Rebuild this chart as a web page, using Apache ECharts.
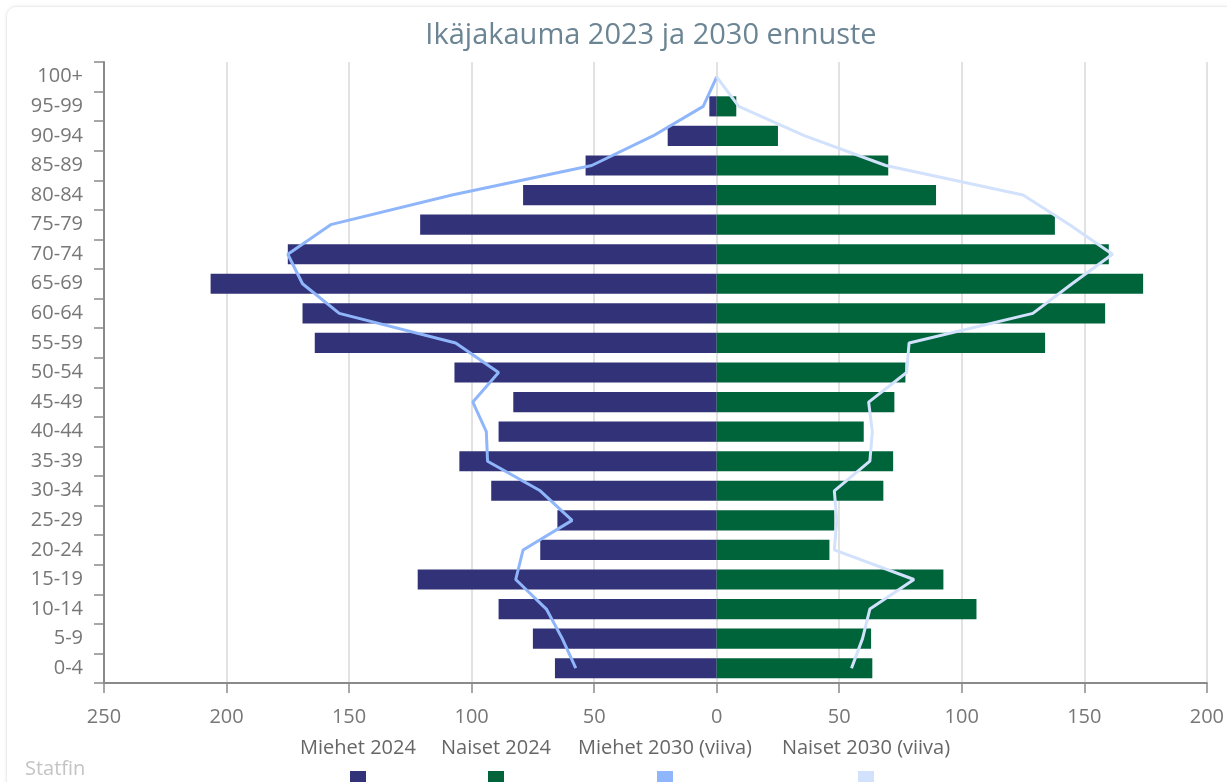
<!DOCTYPE html>
<html>
<head>
<meta charset="utf-8">
<title>Ikäjakauma 2023 ja 2030 ennuste</title>
<script src="https://cdn.jsdelivr.net/npm/echarts@6/dist/echarts.min.js"></script>
<style>
  html, body { margin: 0; padding: 0; background: #fff; }
  #card {
    position: absolute; left: 6px; top: 6px; width: 1240px; height: 800px;
    border: 1px solid #ececec; border-radius: 10px;
    box-shadow: 0 0 4px rgba(0,0,0,0.06);
  }
  #chart { position: absolute; left: 0; top: 0; width: 1227px; height: 782px; }
</style>
</head>
<body>
<div id="card"></div>
<div id="chart"></div>
<script>
// ikäryhmät alhaalta ylös
var ageGroups = ['0-4', '5-9', '10-14', '15-19', '20-24', '25-29', '30-34', '35-39', '40-44', '45-49',
  '50-54', '55-59', '60-64', '65-69', '70-74', '75-79', '80-84', '85-89', '90-94', '95-99', '100+'];

var men2024   = [66, 75, 89, 122, 72, 65, 92, 105, 89, 83, 107, 164, 169, 206.5, 175, 121, 79, 53.5, 20, 3, 0];
var women2024 = [63.5, 63, 106, 92.5, 46, 48, 68, 72, 60, 72.5, 77, 134, 158.5, 174, 160, 138, 89.5, 70, 25, 8, 0];
var men2030   = [57.5, 63, 69.5, 82, 79, 59, 72, 93.5, 94, 99.5, 89, 106.5, 154, 169, 175, 157.5, 108, 51, 26, 5.5, 0];
var women2030 = [55, 59.5, 62.5, 80.5, 48, 49, 48, 62.5, 63.5, 62, 77.5, 78.5, 129, 145, 161.5, 144, 125, 69, 36, 9, 0];

var seriesNames = ['Miehet 2024', 'Naiset 2024', 'Miehet 2030 (viiva)', 'Naiset 2030 (viiva)'];
var seriesColors = ['#323278', '#00643a', '#8fb6fa', '#d2e1fc'];

// legendan paikat (ikoni keskellä tekstin alla)
var legendX = [358, 496, 665, 866];

var FONT = '"Open Sans", "Noto Sans", sans-serif';

function neg(arr) {
  return arr.map(function (v) { return -v; });
}

var legends = [];
var labels = [];
seriesNames.forEach(function (name, i) {
  legends.push({
    data: [name],
    left: legendX[i] - 8,
    top: 771,
    padding: 0,
    itemWidth: 16,
    itemHeight: 16,
    itemGap: 0,
    icon: 'rect',
    formatter: function () { return ''; },
    textStyle: { fontSize: 1 }
  });
  labels.push({
    type: 'text',
    style: {
      text: name, x: legendX[i], y: 748,
      textAlign: 'center', textVerticalAlign: 'middle',
      font: '20px ' + FONT, fill: '#666'
    }
  });
});
labels.push({
  type: 'text',
  style: {
    text: 'Statfin', x: 25, y: 769, textVerticalAlign: 'middle',
    font: '20px ' + FONT, fill: '#c4c4c4'
  }
});
// otsikko keskitettynä kortin mukaan
labels.push({
  type: 'text',
  style: {
    text: 'Ikäjakauma 2023 ja 2030 ennuste', x: 651, y: 36,
    textAlign: 'center', textVerticalAlign: 'middle',
    font: '29px ' + FONT, fill: '#6b8594'
  }
});

var chart = echarts.init(document.getElementById('chart'));

chart.setOption({
  animation: false,
  legend: legends,
  graphic: labels,
  grid: { left: 104, right: 19, top: 62, bottom: 99, containLabel: false },
  xAxis: {
    type: 'value',
    min: -250,
    max: 200,
    interval: 50,
    axisLine: { show: true, lineStyle: { color: '#8a8a8a', width: 2 } },
    axisTick: { show: true, length: 10, lineStyle: { color: '#8a8a8a', width: 1.5 } },
    axisLabel: {
      margin: 24, color: '#777', fontSize: 20, fontFamily: FONT,
      formatter: function (v) { return Math.abs(v); }
    },
    splitLine: { show: true, lineStyle: { color: '#d9d9d9', width: 1.5 } }
  },
  yAxis: {
    type: 'category',
    data: ageGroups,
    axisLine: { show: true, onZero: false, lineStyle: { color: '#8a8a8a', width: 2 } },
    axisTick: { show: true, length: 10, lineStyle: { color: '#8a8a8a', width: 1.5 } },
    axisLabel: { margin: 21, color: '#777', fontSize: 20, fontFamily: FONT },
    splitLine: { show: false }
  },
  series: [
    {
      name: seriesNames[0], type: 'bar', stack: 'pop', barCategoryGap: '32%',
      itemStyle: { color: seriesColors[0] },
      data: neg(men2024)
    },
    {
      name: seriesNames[1], type: 'bar', stack: 'pop', barCategoryGap: '32%',
      itemStyle: { color: seriesColors[1] },
      data: women2024
    },
    {
      name: seriesNames[2], type: 'line', showSymbol: false, symbol: 'none',
      itemStyle: { color: seriesColors[2] },
      lineStyle: { color: seriesColors[2], width: 3 },
      data: neg(men2030)
    },
    {
      name: seriesNames[3], type: 'line', showSymbol: false, symbol: 'none',
      itemStyle: { color: seriesColors[3] },
      lineStyle: { color: seriesColors[3], width: 3 },
      data: women2030
    }
  ]
});
</script>
</body>
</html>
